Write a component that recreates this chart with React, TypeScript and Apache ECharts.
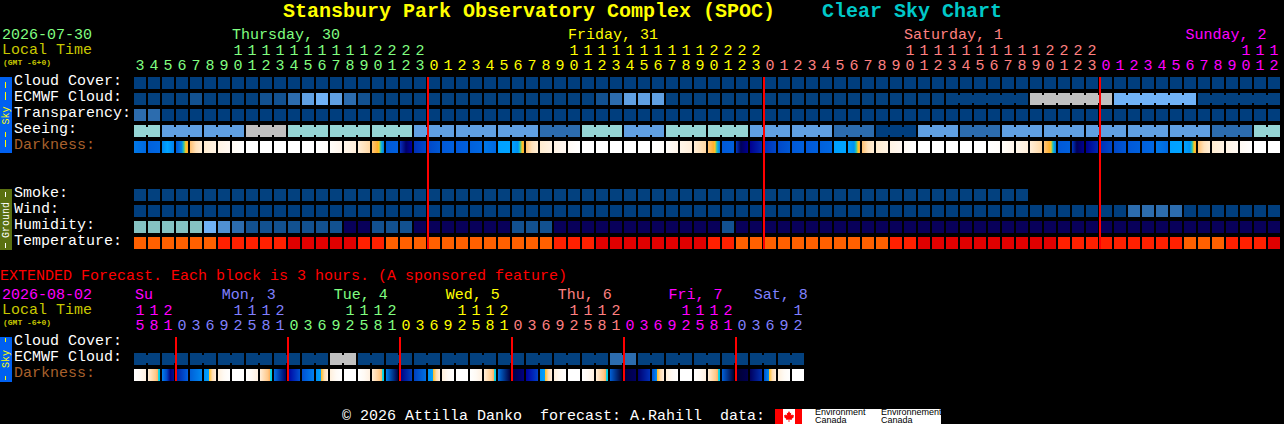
import React, { useEffect, useRef } from "react";
import * as echarts from "echarts";

const MONO = "'Liberation Mono', monospace";

// ---- hourly forecast ----
const hourUnits = ["3","4","5","6","7","8","9","0","1","2","3","4","5","6","7","8","9","0","1","2","3",
  "0","1","2","3","4","5","6","7","8","9","0","1","2","3","4","5","6","7","8","9","0","1","2","3",
  "0","1","2","3","4","5","6","7","8","9","0","1","2","3","4","5","6","7","8","9","0","1","2","3",
  "0","1","2","3","4","5","6","7","8","9","0","1","2"];
const hourTens = ["","","","","","","","1","1","1","1","1","1","1","1","1","1","2","2","2","2",
  "","","","","","","","","","","1","1","1","1","1","1","1","1","1","1","2","2","2","2",
  "","","","","","","","","","","1","1","1","1","1","1","1","1","1","1","2","2","2","2",
  "","","","","","","","","","","1","1","1"];
const hourDayColors = [0,0,0,0,0,0,0,0,0,0,0,0,0,0,0,0,0,0,0,0,0,
  1,1,1,1,1,1,1,1,1,1,1,1,1,1,1,1,1,1,1,1,1,1,1,1,
  2,2,2,2,2,2,2,2,2,2,2,2,2,2,2,2,2,2,2,2,2,2,2,2,
  3,3,3,3,3,3,3,3,3,3,3,3,3];
const hourRowNames = ["Cloud Cover:","ECMWF Cloud:","Transparency:","Seeing:","Darkness:","","","Smoke:","Wind:","Humidity:","Temperature:"];
const midnightColumns = [21,45,69];

const cloudCover = [0,0,0,0,0,0,0,0,0,0,0,0,0,0,0,0,0,0,0,0,0,0,0,0,0,0,0,0,0,0,0,0,0,0,0,0,0,0,0,0,0,0,0,0,0,0,0,0,0,0,0,0,0,0,0,0,0,0,0,0,0,0,0,0,0,0,0,0,0,0,0,0,0,0,0,0,0,0,0,0,0,0];
const ecmwfCloud = [12,12,12,12,1,12,12,12,12,1,1,2,3,4,3,2,1,12,12,12,12,
  12,12,12,12,12,12,12,12,12,12,12,12,1,2,3,3,3,12,12,12,12,12,12,12,
  12,12,12,12,12,12,12,12,12,12,12,12,12,12,12,12,12,12,12,5,5,5,5,5,5,4,4,4,4,4,4,12,12,12,12,12,12];
const ecmwfBlocks = [1,1,1,1,1,1,1,1,1,1,1,1,1,1,1,1,1,1,1,1,1,1,1,1,1,1,1,1,1,1,1,1,1,1,1,1,1,1,1,1,1,1,1,1,1,1,1,1,1,1,1,1,1,1,1,1,1,1,6,6,6,6];
const transparency = [2,2,0,0,0,0,0,0,0,0,0,0,0,0,0,0,0,0,0,0,0,0,0,0,0,0,0,0,0,0,0,0,0,0,0,0,0,0,0,0,0,0,0,0,0,0,0,0,0,0,0,0,0,0,0,0,0,0,0,0,0,0,0,0,0,0,0,0,0,0,0,0,0,0,0,0,0,0,0,0,0,0];
const seeing = [6,6,3,3,3,3,3,3,5,5,5,6,6,6,6,6,6,6,6,6,3,3,3,3,3,3,3,3,3,2,2,2,6,6,6,3,3,3,6,6,6,6,6,6,3,3,3,3,3,3,2,2,2,0,0,0,3,3,3,2,2,2,3,3,3,3,3,3,3,3,3,3,3,3,3,3,3,2,2,2,6,6];
const seeingBlocks = [2,3,3,3,3,3,3,3,3,3,3,3,3,3,3,3,3,3,3,3,3,3,3,3,3,3,3,2];
const darknessHourly = ["B7","B6","BB","R0","M1","M2","M3","M4","W","W","W","W","W","E0","E1","E2","E4","S","B5","DA","B3",
  "B4","B5","B5","B6","B7","BC","R","M1","M2","M3","M4","W","W","W","W","W","E0","E1","E2","E4","S","B5","DB","DC",
  "B3","B4","B5","B5","B6","BC","R","M1","M2","M3","M4","W","W","W","W","W","E0","E1","E2","E4","S","B5","DB","DC",
  "B3","B4","B5","B6","B7","BC","R","M1","M2","M3","M4","W","W"];
const smoke = [12,12,12,12,12,12,12,12,12,12,12,12,12,12,12,12,12,12,12,12,12,12,12,12,12,12,12,12,12,12,12,12,12,12,12,12,12,12,12,12,12,12,12,12,12,12,12,12,12,12,12,12,12,12,12,12,12,12,12,12,12,12,12,12];
const wind = [0,0,0,0,0,0,0,0,0,0,0,0,0,0,0,0,0,0,0,0,0,0,0,0,0,0,0,0,0,0,0,0,0,0,0,0,0,0,0,0,0,0,0,0,0,0,0,0,0,0,0,0,0,0,0,0,0,0,0,0,0,0,0,0,0,0,0,0,0,0,0,2,2,2,2,0,0,0,0,0,0,0];
const humidity = [7,7,7,7,7,4,13,2,1,1,1,1,1,1,1,8,8,1,1,1,8,8,8,8,8,8,8,1,1,1,8,8,8,8,8,8,8,8,8,8,8,8,1,8,8,8,8,8,8,8,8,8,8,8,8,8,8,8,8,8,8,8,8,8,8,8,8,8,8,8,8,8,8,8,8,8,8,8,8,8,8,8];
const temperature = [9,9,9,9,9,9,10,10,10,10,10,11,11,11,11,11,10,10,9,9,9,9,9,9,9,9,9,9,9,9,10,10,10,11,11,11,11,11,11,11,11,10,10,9,9,9,9,9,9,9,9,9,9,9,10,10,11,11,11,11,11,11,11,11,11,11,10,10,10,10,10,10,10,10,10,9,9,9,10,10,10,11];

// ---- extended forecast ----
const extUnits = ["5","8","1","0","3","6","9","2","5","8","1","0","3","6","9","2","5","8","1","0","3","6","9","2","5","8","1","0","3","6","9","2","5","8","1","0","3","6","9","2","5","8","1","0","3","6","9","2"];
const extTens = ["1","1","2","","","","","1","1","1","2","","","","","1","1","1","2","","","","","1","1","1","2","","","","","1","1","1","2","","","","","1","1","1","2","","","","","1"];
const extDayColors = [3,3,3,4,4,4,4,4,4,4,4,0,0,0,0,0,0,0,0,1,1,1,1,1,1,1,1,2,2,2,2,2,2,2,2,3,3,3,3,3,3,3,3,4,4,4,4,4];
const extRowNames = ["Cloud Cover:","ECMWF Cloud:","Darkness:"];
const extMidnights = [3,11,19,27,35,43];
const extEcmwf = [12,12,12,12,12,12,12,12,12,12,12,12,12,12,5,5,12,12,12,12,12,12,12,12,12,12,12,12,12,12,12,12,12,12,2,2,12,12,12,12,12,12,12,12,12,12,12,12];
const extEcmwfBlocks = [2,2,2,2,2,2,2,2,2,2,2,2,2,2,2,2,2,2,2,2,2,2,2,2];
const extDarkness = ["XE","XS","X1","X2","X3","XR","XM","W","XE","XS","X4","X5","X6","XR","XM","W","XE","XS","X7","X8","X9","XR","XM","W","XE","XS","X10","X11","X12","XR","XM","W","XE","XS","X13","X14","X15","XQ","XM","W","XE","XS","X13","X16","X17","XQ","XM","W"];

// ---- header text ----
const hourDays = [["Thursday, 30",7,0],["Friday, 31",31,1],["Saturday, 1",55,2],["Sunday, 2",75.1,3]] as const;
const extDays = [["Su",0,3],["Mon, 3",6.2,4],["Tue, 4",14.2,0],["Wed, 5",22.2,1],["Thu, 6",30.2,2],["Fri, 7",38.1,3],["Sat, 8",44.2,4]] as const;

// ---- styles ----
const dayColors = ["#80ff80","#ffff00","#ff8080","#ff00ff","#8080ff"];
const levelColors = ["#003e7e","#125190","#2c6cae","#60a0e2","#70b2f6","#c0c0c0","#95d5d5","#85c2c2","#08005a","#ff6000","#ff2000","#e00000","#03417f","#5090d2"];
const grad = (...s: [number, string][]) => s;
const darkStops: Record<string, [number, string][]> = {
  W: grad([0,"#ffffff"],[1,"#ffffff"]),
  E0: grad([0,"#ffffff"],[1,"#fffdfa"]),
  E1: grad([0,"#fffdf9"],[1,"#fff5ea"]),
  E2: grad([0,"#fff6ea"],[1,"#ffeeda"]),
  E4: grad([0,"#ffeed8"],[1,"#ffd8a4"]),
  M1: grad([0,"#ffc070"],[0.5,"#ffe2bc"],[1,"#ffeed6"]),
  M2: grad([0,"#ffecd0"],[1,"#fff3e4"]),
  M3: grad([0,"#fff3e4"],[1,"#fff8f2"]),
  M4: grad([0,"#fffaf4"],[1,"#ffffff"]),
  R0: grad([0,"#0058d8"],[0.45,"#0080e8"],[0.58,"#10b0d0"],[0.7,"#70c870"],[0.82,"#ffc820"],[1,"#ffa838"]),
  R: grad([0,"#00a0ff"],[0.5,"#0090f0"],[0.62,"#10b8d0"],[0.74,"#70c870"],[0.84,"#ffc820"],[1,"#ffa838"]),
  S: grad([0,"#ffc478"],[0.45,"#ffb030"],[0.58,"#ffc820"],[0.7,"#50c890"],[0.8,"#10b0d8"],[1,"#0078e8"]),
  B3: grad([0,"#0030b8"],[1,"#0048c8"]),
  B4: grad([0,"#0048c8"],[1,"#0058d4"]),
  B5: grad([0,"#0058d8"],[1,"#0060dc"]),
  B6: grad([0,"#0060dc"],[1,"#0068e2"]),
  B7: grad([0,"#0078e8"],[1,"#0068e0"]),
  BB: grad([0,"#0088f0"],[0.45,"#00a4ff"],[1,"#0080f0"]),
  BC: grad([0,"#00a0ff"],[1,"#00a4ff"]),
  DA: grad([0,"#0830c0"],[0.5,"#000068"],[1,"#0000a0"]),
  DB: grad([0,"#0038c0"],[0.4,"#000058"],[1,"#000090"]),
  DC: grad([0,"#000090"],[1,"#0028b0"]),
  XE: grad([0,"#ffffff"],[0.5,"#fffaf4"],[1,"#fff0e0"]),
  XM: grad([0,"#fff0dc"],[0.5,"#fffaf4"],[1,"#ffffff"]),
  XS: grad([0,"#ffeed8"],[0.65,"#ffc888"],[0.82,"#ffb060"],[0.88,"#00d8e8"],[1,"#00c8e8"]),
  XR: grad([0,"#0090f0"],[0.38,"#00a0ff"],[0.45,"#ffc030"],[0.7,"#ffdcb0"],[1,"#fff0e0"]),
  XQ: grad([0,"#0050d0"],[0.38,"#0088f0"],[0.45,"#ffc030"],[0.7,"#ffdcb0"],[1,"#fff0e0"]),
  X1: grad([0,"#0080f0"],[0.4,"#0048c8"],[0.7,"#000078"],[1,"#001090"]),
  X2: grad([0,"#0020a0"],[1,"#0060e0"]),
  X3: grad([0,"#0060d8"],[1,"#0088f0"]),
  X4: grad([0,"#0070e8"],[1,"#000060"]),
  X5: grad([0,"#0000a0"],[1,"#0050d0"]),
  X6: grad([0,"#0050d0"],[1,"#0080f0"]),
  X7: grad([0,"#0080f0"],[1,"#000040"]),
  X8: grad([0,"#000080"],[1,"#0040c0"]),
  X9: grad([0,"#0040c0"],[1,"#0070e0"]),
  X10: grad([0,"#0070e0"],[1,"#000040"]),
  X11: grad([0,"#000040"],[1,"#000080"]),
  X12: grad([0,"#0000a0"],[1,"#0040c8"]),
  X13: grad([0,"#0060d8"],[1,"#000030"]),
  X14: grad([0,"#000040"],[1,"#000060"]),
  X15: grad([0,"#000070"],[1,"#0030b8"]),
  X16: grad([0,"#000030"],[1,"#000050"]),
  X17: grad([0,"#000060"],[1,"#0030b0"]),
};

const levelFill = (v: number) => levelColors[v];
const darkFill = (code: string) => ({
  type: "linear", x: 0, y: 0, x2: 1, y2: 0,
  colorStops: darkStops[code].map(([offset, color]) => ({ offset, color })),
});

const joinedCells = (blocks: number[]) => {
  const out: boolean[] = [];
  blocks.forEach((n) => { for (let k = 0; k < n; k++) out.push(k < n - 1); });
  return out;
};

function rowSeries(name: string, gridIndex: number, row: number, values: any[], fill: (v: any) => any, blocks?: number[]) {
  const joined = blocks ? joinedCells(blocks) : [];
  return {
    name, type: "custom", xAxisIndex: gridIndex * 2, yAxisIndex: gridIndex,
    encode: { x: 0, y: 1 }, silent: true, clip: false,
    data: values.map((_, i) => [i, row]),
    renderItem: (params: any, api: any) => {
      const i = params.dataIndex;
      const c = api.coord([api.value(0), api.value(1)]);
      const s = api.size([1, 1]);
      const w = s[0] - 2, h = s[1] - 4, x = c[0] - w / 2, y = c[1] - h / 2;
      const f = fill(values[i]);
      const children: any[] = [{ type: "rect", shape: { x, y, width: w, height: h }, style: { fill: f } }];
      if (joined[i]) children.push({ type: "rect", shape: { x: x + w, y: y + 2, width: 2, height: h - 4 }, style: { fill: f } });
      return { type: "group", children };
    },
  };
}

function midnightSeries(gridIndex: number, columns: number[], lastRow: number) {
  return {
    name: "midnight", type: "custom", xAxisIndex: gridIndex * 2, yAxisIndex: gridIndex,
    encode: { x: 0, y: 1 }, silent: true, clip: false, z: 5,
    data: columns.map((c) => [c, 0]),
    renderItem: (_p: any, api: any) => {
      const c = api.coord([api.value(0), 0]);
      const e = api.coord([api.value(0), lastRow]);
      const s = api.size([1, 1]);
      const left = c[0] - s[0] / 2;
      return { type: "rect", shape: { x: left, y: c[1] - s[1] / 2 + 2, width: 2, height: e[1] - c[1] + s[1] - 4 }, style: { fill: "#ff0000" } };
    },
  };
}

const axisFont = { fontFamily: MONO, fontSize: 15 };
function topAxes(gridIndex: number, tens: string[], units: string[], dayIdx: number[]) {
  const base = { type: "category", gridIndex, position: "top", axisLine: { show: false }, axisTick: { show: false }, splitLine: { show: false } };
  return [
    { ...base, offset: 0, data: units.map((u, i) => ({ value: u, textStyle: { color: dayColors[dayIdx[i]] } })),
      axisLabel: { ...axisFont, interval: 0, margin: 1, hideOverlap: false } },
    { ...base, offset: 15, data: tens.map((u, i) => ({ value: u, textStyle: { color: dayColors[dayIdx[i]] } })),
      axisLabel: { ...axisFont, interval: 0, margin: 1, hideOverlap: false } },
  ];
}
function rowAxis(gridIndex: number, names: string[]) {
  return {
    type: "category", gridIndex, inverse: true,
    data: names.map((n) => ({ value: n, textStyle: { color: n === "Darkness:" ? "#a8602c" : "#ffffff", align: "left", verticalAlign: "bottom", lineHeight: 4 } })),
    axisLine: { show: false }, axisTick: { show: false }, splitLine: { show: false },
    axisLabel: { ...axisFont, interval: 0, margin: 119 },
  };
}

const txt = (text: string, x: number, y: number, fill: string, fontSize = 15, fontWeight: any = "normal", extra: any = {}) => ({
  type: "text", x, y, silent: true,
  style: { text, fill, fontFamily: MONO, fontSize, fontWeight, textVerticalAlign: "middle", ...extra },
});
const bar = (x: number, y: number, w: number, h: number, fill: string) => ({ type: "rect", silent: true, shape: { x, y, width: w, height: h }, style: { fill } });
const sideText = (text: string, cy: number, fill: string) => ({
  type: "text", x: 6, y: cy, rotation: Math.PI / 2, silent: true,
  style: { text, fill, fontFamily: MONO, fontSize: 10, textAlign: "center", textVerticalAlign: "middle" },
});
const logoText = (text: string, x: number, y: number) => ({
  type: "text", x, y, silent: true,
  style: { text, fill: "#000", fontFamily: "'Liberation Sans', sans-serif", fontSize: 9, textVerticalAlign: "middle" },
});

const LEAF = "M5 0 L6.2 2.2 L7.2 1.7 L6.8 4.4 L8.2 3.2 L8.6 4.2 L10 4 L9.5 5.6 L10 6 L7.6 7.9 L7.9 9 L5.4 8.6 L5.4 11 L4.6 11 L4.6 8.6 L2.1 9 L2.4 7.9 L0 6 L0.5 5.6 L0 4 L1.4 4.2 L1.8 3.2 L3.2 4.4 L2.8 1.7 L3.8 2.2 Z";

export default function App() {
  const ref = useRef<HTMLDivElement>(null);
  useEffect(() => {
    document.body.style.margin = "0";
    document.body.style.background = "#000";
    echarts.graphic.registerShape("leaf", echarts.graphic.extendPath(LEAF, {}) as any);

    const chart = echarts.init(ref.current!, null, { renderer: "svg", width: 1284, height: 424 });
    const graphicEls: any[] = [
      txt("Stansbury Park Observatory Complex (SPOC)", 283, 11, "#ffff00", 20, "bold"),
      txt("Clear Sky Chart", 822, 11, "#00c8c8", 20, "bold"),
      txt("2026-07-30", 2, 35, dayColors[0]),
      txt("Local Time", 2, 50, "#c8c800"),
      txt("(GMT -6+0)", 3, 62, "#c8c800", 8, "bold"),
      txt("EXTENDED Forecast. Each block is 3 hours. (A sponsored feature)", 0, 276, "#ff0000"),
      txt("2026-08-02", 2, 295, dayColors[3]),
      txt("Local Time", 2, 310, "#c8c800"),
      txt("(GMT -6+0)", 3, 322, "#c8c800", 8, "bold"),
      txt("\u00a9 2026 Attilla Danko  forecast: A.Rahill  data:", 342, 416, "#ffffff"),
      bar(0, 77, 12, 76, "#0060f0"),
      bar(5, 82, 1, 6, "#ffff00"), bar(5, 92, 1, 8, "#ffff00"),
      bar(5, 132, 1, 5, "#ffff00"), bar(5, 140, 1, 7, "#ffff00"),
      sideText("Sky", 115.5, "#ffff00"),
      bar(0, 189, 12, 61, "#5a7010"),
      bar(5, 192, 1, 5, "#ffffff"), bar(5, 243, 1, 5, "#ffffff"),
      sideText("Ground", 220, "#ffffff"),
      bar(0, 337, 12, 45, "#0060f0"),
      bar(5, 338, 1, 4, "#ffff00"), bar(5, 376, 1, 4, "#ffff00"),
      sideText("Sky", 359, "#ffff00"),
      bar(775, 409, 166, 15, "#ffffff"),
      bar(775, 409, 8, 15, "#ff0000"), bar(795, 409, 7, 15, "#ff0000"),
      { type: "leaf", x: 784, y: 411, scaleX: 1, scaleY: 1, silent: true, style: { fill: "#ff0000" } },
      logoText("Environment", 815, 412), logoText("Canada", 815, 420),
      logoText("Environnement", 881, 412), logoText("Canada", 881, 420),
    ];
    hourDays.forEach(([t, col, c]) => graphicEls.push(txt(t, 134 + 14 * col, 35, dayColors[c])));
    extDays.forEach(([t, col, c]) => graphicEls.push(txt(t, 134 + 14 * col + 1, 295, dayColors[c])));

    chart.setOption({
      animation: false,
      backgroundColor: "#000000",
      graphic: { elements: graphicEls },
      grid: [
        { left: 133, top: 75, width: 1148, height: 176, outerBoundsMode: "none" },
        { left: 133, top: 335, width: 672, height: 48, outerBoundsMode: "none" },
      ],
      xAxis: [...topAxes(0, hourTens, hourUnits, hourDayColors), ...topAxes(1, extTens, extUnits, extDayColors)],
      yAxis: [rowAxis(0, hourRowNames), rowAxis(1, extRowNames)],
      series: [
        rowSeries("Cloud Cover", 0, 0, cloudCover, levelFill),
        rowSeries("ECMWF Cloud", 0, 1, ecmwfCloud, levelFill, ecmwfBlocks),
        rowSeries("Transparency", 0, 2, transparency, levelFill),
        rowSeries("Seeing", 0, 3, seeing, levelFill, seeingBlocks),
        rowSeries("Darkness", 0, 4, darknessHourly, darkFill),
        rowSeries("Smoke", 0, 7, smoke, levelFill),
        rowSeries("Wind", 0, 8, wind, levelFill),
        rowSeries("Humidity", 0, 9, humidity, levelFill),
        rowSeries("Temperature", 0, 10, temperature, levelFill),
        midnightSeries(0, midnightColumns, 10),
        rowSeries("Extended ECMWF Cloud", 1, 1, extEcmwf, levelFill, extEcmwfBlocks),
        rowSeries("Extended Darkness", 1, 2, extDarkness, darkFill),
        midnightSeries(1, extMidnights, 2),
      ],
    });
    return () => chart.dispose();
  }, []);
  return <div ref={ref} style={{ width: 1284, height: 424, background: "#000" }} />;
}
